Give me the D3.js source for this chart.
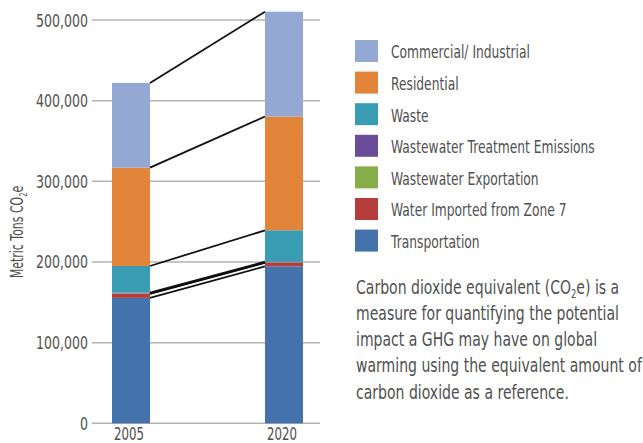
<!DOCTYPE html>
<html><head><meta charset="utf-8">
<script src="https://cdn.jsdelivr.net/npm/d3@7"></script>
<style>
html,body{margin:0;padding:0;background:#fff;}
svg text{font-family:"DejaVu Sans",sans-serif;fill:#505050;}
</style></head>
<body><svg id="c" width="643" height="443"></svg>
<script>
const years = ["2005", "2020"];
const seriesNames = ["Transportation", "Water Imported from Zone 7", "Wastewater Exportation", "Wastewater Treatment Emissions", "Waste", "Residential", "Commercial/ Industrial"];
const transportation = [155500, 194500];
const waterImported = [5000, 4500];
const wastewaterExport = [600, 500];
const wastewaterTreatment = [900, 800];
const waste = [33000, 39000];
const residential = [122000, 141000];
const commercial = [105000, 130000];
const colors = ["#4472aa", "#b53d3c", "#87ad4a", "#6b4c9a", "#3a9cb2", "#e2843a", "#93a9d3"];
const yTicks = [0, 100000, 200000, 300000, 400000, 500000];
const legendOrder = ["Commercial/ Industrial", "Residential", "Waste", "Wastewater Treatment Emissions", "Wastewater Exportation", "Water Imported from Zone 7", "Transportation"];
const noteLines = ["Carbon dioxide equivalent (CO|2|e) is a", "measure for quantifying the potential", "impact a GHG may have on global", "warming using the equivalent amount of", "carbon dioxide as a reference."];

const valuesBySeries = [transportation, waterImported, wastewaterExport, wastewaterTreatment, waste, residential, commercial];
const table = years.map((yr, i) => {
  const row = {year: yr};
  seriesNames.forEach((s, j) => row[s] = valuesBySeries[j][i]);
  return row;
});
const stacked = d3.stack().keys(seriesNames)(table);
const color = d3.scaleOrdinal(seriesNames, colors);

const svg = d3.select("#c");
const y = d3.scaleLinear([0, 500000], [423.3, 20]);
const x = d3.scalePoint(years, [131, 284]);
const bw = 38;

function squeeze(sel, refText, targetW, size) {
  const probe = svg.append("text").attr("font-size", size).text(refText);
  const w = probe.node().getComputedTextLength();
  probe.remove();
  return targetW / w;
}
function addSub(t, parts, subSize) {
  t.append("tspan").text(parts[0]);
  t.append("tspan").attr("font-size", subSize).attr("dy", 4).text(parts[1]);
  t.append("tspan").attr("dy", -4).text(parts[2]);
}

const g = svg.append("g");
g.selectAll("line").data(yTicks).join("line")
  .attr("x1", 92).attr("x2", 320)
  .attr("y1", d => y(d)).attr("y2", d => y(d))
  .attr("stroke", "#b3b3b3").attr("stroke-width", 1.5);
const sTick = squeeze(svg, "500,000", 52, 17);
g.selectAll("text").data(yTicks).join("text")
  .attr("transform", d => `translate(88,${y(d) + 6.5}) scale(${sTick},1)`)
  .attr("text-anchor", "end").attr("font-size", 17)
  .text(d => d3.format(",")(d));

svg.append("g").selectAll("g").data(stacked).join("g")
  .attr("fill", d => color(d.key))
  .selectAll("rect").data(d => d).join("rect")
  .attr("x", d => x(d.data.year) - bw / 2)
  .attr("width", bw)
  .attr("y", d => y(d[1]))
  .attr("height", d => y(d[0]) - y(d[1]));

svg.append("g").selectAll("line").data(stacked).join("line")
  .attr("x1", x(years[0]) + bw / 2).attr("x2", x(years[1]) - bw / 2)
  .attr("y1", d => y(d[0][1])).attr("y2", d => y(d[1][1]))
  .attr("stroke", "#111").attr("stroke-width", 1.8);

const sX = squeeze(svg, "2005", 30, 17);
svg.append("g").selectAll("text").data(years).join("text")
  .attr("transform", d => `translate(${x(d) - 2},440) scale(${sX},1)`)
  .attr("text-anchor", "middle").attr("font-size", 17).text(d => d);

const sY = squeeze(svg, "Metric Tons CO2e", 95, 18);
const yt = svg.append("text").attr("transform", `translate(23,232) rotate(-90) scale(${sY},1)`)
  .attr("text-anchor", "middle").attr("font-size", 18);
addSub(yt, ["Metric Tons CO", "2", "e"], 11);

const sL = squeeze(svg, "Wastewater Treatment Emissions", 204, 18);
const leg = svg.append("g").selectAll("g").data(legendOrder).join("g")
  .attr("transform", (d, i) => `translate(355,${40 + i * 31.6})`);
leg.append("rect").attr("width", 23).attr("height", 22).attr("fill", d => color(d));
leg.append("text").attr("transform", `translate(36,18.3) scale(${sL},1)`)
  .attr("font-size", 18).text(d => d);

const sN = squeeze(svg, "warming using the equivalent amount of", 286, 20);
const note = svg.append("g").selectAll("text").data(noteLines).join("text")
  .attr("transform", (d, i) => `translate(356,${293.5 + i * 26.3}) scale(${sN},1)`)
  .attr("font-size", 20);
note.each(function(d) {
  const parts = d.split("|");
  const t = d3.select(this);
  if (parts.length === 1) t.text(d);
  else addSub(t, parts, 12);
});
</script></body></html>
